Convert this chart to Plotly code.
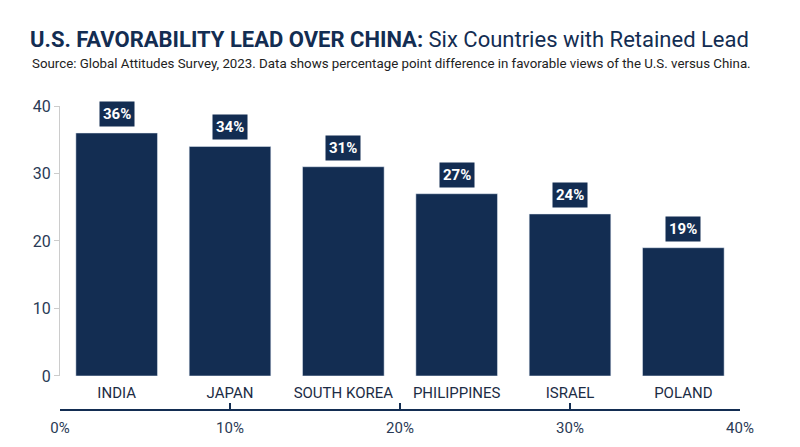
import plotly.graph_objects as go

countries = ["INDIA", "JAPAN", "SOUTH KOREA", "PHILIPPINES", "ISRAEL", "POLAND"]
lead = [36, 34, 31, 27, 24, 19]
pct_ticks = [0, 10, 20, 30, 40]
pct_labels = ["0%", "10%", "20%", "30%", "40%"]

navy = "#132d52"
font = "Roboto"

fig = go.Figure()
fig.add_trace(go.Bar(x=countries, y=lead, marker_color=navy, width=0.72,
                     showlegend=False, hoverinfo="skip"))
# dummy trace so the percent axis is drawn
fig.add_trace(go.Scatter(x=[0, 40], y=[0, 0], xaxis="x2", mode="markers",
                         marker=dict(opacity=0), showlegend=False, hoverinfo="skip"))

for c, v in zip(countries, lead):
    fig.add_annotation(x=c, y=v, text="<b>%d%%</b>" % v, showarrow=False,
                       yanchor="bottom", yshift=6, bgcolor=navy,
                       font=dict(family=font, size=15, color="white"),
                       borderpad=3)

fig.update_layout(
    width=800, height=447,
    margin=dict(l=52, r=68, t=98, b=45, autoexpand=False),
    plot_bgcolor="white", paper_bgcolor="white",
    title=dict(text="<b>U.S. FAVORABILITY LEAD OVER CHINA:</b> Six Countries with Retained Lead",
               x=0.0275, xanchor="left", y=0.931, yanchor="middle",
               font=dict(family=font, size=22, color=navy)),
    xaxis=dict(showline=False, ticks="", automargin=False, ticklabelstandoff=6,
               tickfont=dict(family=font, size=15, color="#1c2c45")),
    yaxis=dict(range=[0, 40], domain=[0.112, 1], tickvals=[0, 10, 20, 30, 40],
               showgrid=False, showline=True, linecolor="#cccccc", linewidth=1,
               ticks="outside", ticklen=5, tickcolor="#cccccc", zeroline=False,
               automargin=False,
               tickfont=dict(family=font, size=16, color="#2a3a55")),
    xaxis2=dict(overlaying="x", anchor="free", position=0, side="bottom",
                range=[0, 40], tickvals=pct_ticks, ticktext=pct_labels,
                showline=True, linecolor=navy, linewidth=2, ticks="inside",
                ticklen=6, tickwidth=2, tickcolor=navy, showgrid=False, zeroline=False,
                automargin=False, ticklabelstandoff=4,
                tickfont=dict(family=font, size=15, color="#2a3a55")),
)
fig.add_annotation(xref="paper", yref="paper", x=-0.044, y=1.141, xanchor="left",
                   yanchor="middle", showarrow=False,
                   text="Source: Global Attitudes Survey, 2023. Data shows percentage point difference in favorable views of the U.S. versus China.",
                   font=dict(family=font, size=13.3, color="#222222"))

fig.write_html("out.html")
